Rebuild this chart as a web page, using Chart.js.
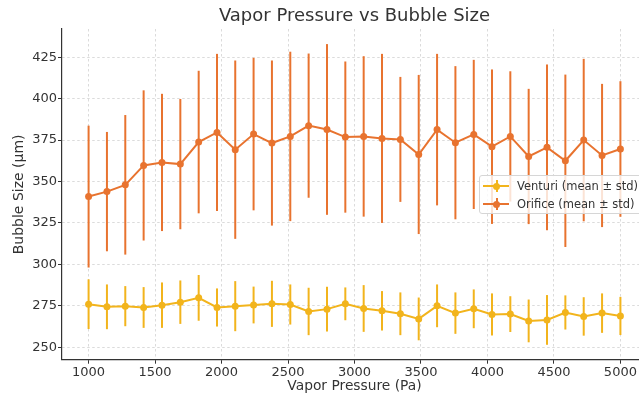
<!DOCTYPE html>
<html>
<head>
<meta charset="utf-8">
<script src="https://cdn.jsdelivr.net/npm/chart.js@4.4.0/dist/chart.umd.min.js"></script>
<style>
  html, body { margin: 0; padding: 0; background: #fff; overflow: hidden; }
  #wrap { position: absolute; left: 0; top: 0; width: 655px; height: 398px; }
  #legend {
    position: absolute; left: 479px; top: 175px; width: 172px; height: 37px;
    border: 1px solid #d6d6d6; border-radius: 3px; background: rgba(255,255,255,0.8);
    font-family: "DejaVu Sans", sans-serif; font-size: 11.5px; color: #333;
  }
  .row { position: absolute; left: 0; width: 100%; height: 18px; }
  .hl { position: absolute; left: 3px; top: 8px; width: 26px; height: 2px; }
  .vl { position: absolute; left: 15.5px; top: 3px; width: 2px; height: 12px; }
  .dot { position: absolute; left: 13px; top: 5.5px; width: 7px; height: 7px; border-radius: 50%; }
  .txt { position: absolute; left: 37px; top: 1px; line-height: 16px; white-space: nowrap; }
</style>
</head>
<body>
<div id="wrap"><canvas id="chart" width="655" height="398"></canvas></div>
<div id="legend">
  <div class="row" style="top:1px">
    <span class="hl" style="background:#f2b41c"></span><span class="vl" style="background:#f2b41c"></span><span class="dot" style="background:#f2b41c"></span>
    <span class="txt">Venturi (mean ± std)</span>
  </div>
  <div class="row" style="top:19px">
    <span class="hl" style="background:#e8732f"></span><span class="vl" style="background:#e8732f"></span><span class="dot" style="background:#e8732f"></span>
    <span class="txt">Orifice (mean ± std)</span>
  </div>
</div>
<script>
// Presión de vapor (Pa)
const pressure = [1000, 1138, 1276, 1414, 1552, 1690, 1828, 1966, 2103, 2241,
                  2379, 2517, 2655, 2793, 2931, 3069, 3207, 3345, 3483, 3621,
                  3759, 3897, 4034, 4172, 4310, 4448, 4586, 4724, 4862, 5000];

const venturiMean = [276.0, 274.4, 274.8, 274.0, 275.4, 277.2, 279.8, 274.0, 274.8, 275.5,
                     276.2, 275.8, 271.6, 273.0, 276.2, 273.4, 272.0, 270.2, 267.1, 275.0,
                     270.6, 273.2, 269.8, 270.0, 265.9, 266.5, 271.0, 268.6, 270.6, 268.9];
const venturiStd = [15.0, 13.5, 12.1, 12.3, 13.7, 13.1, 13.8, 11.5, 15.1, 11.1,
                    13.9, 12.1, 14.3, 13.5, 9.9, 14.1, 11.9, 12.9, 12.9, 12.9,
                    12.5, 11.7, 12.7, 10.8, 12.9, 15.0, 10.3, 11.6, 11.9, 11.5];

const orificeMean = [340.9, 343.9, 348.0, 359.7, 361.5, 360.5, 373.8, 379.6, 369.2, 378.6,
                     373.2, 377.2, 383.7, 381.4, 376.8, 377.2, 376.0, 375.4, 366.3, 381.3,
                     373.4, 378.4, 371.0, 377.2, 365.1, 370.6, 362.5, 375.0, 365.7, 369.6];
const orificeStd = [42.8, 36.0, 42.1, 45.3, 41.4, 39.3, 43.0, 47.4, 53.8, 46.0,
                    49.8, 51.1, 43.5, 51.5, 45.6, 48.4, 51.0, 37.7, 48.0, 45.7,
                    46.2, 45.0, 46.6, 39.3, 40.8, 50.0, 52.0, 49.0, 43.2, 40.9];

const xTicks = [1000, 1500, 2000, 2500, 3000, 3500, 4000, 4500, 5000];
const yTicks = [250, 275, 300, 325, 350, 375, 400, 425];

const venturiColor = '#f2b41c';
const orificeColor = '#e8732f';
const font = 'DejaVu Sans';

// Barras de error dibujadas con las escalas del gráfico
const errorBarsPlugin = {
  id: 'errorBars',
  beforeDatasetsDraw(chart) {
    const ctx = chart.ctx;
    const xs = chart.scales.x, ys = chart.scales.y;
    chart.data.datasets.forEach(ds => {
      if (!ds.errors) return;
      ctx.save();
      ctx.strokeStyle = ds.borderColor;
      ctx.lineWidth = 2;
      ds.data.forEach((pt, i) => {
        const x = xs.getPixelForValue(pt.x);
        ctx.beginPath();
        ctx.moveTo(x, ys.getPixelForValue(pt.y - ds.errors[i]));
        ctx.lineTo(x, ys.getPixelForValue(pt.y + ds.errors[i]));
        ctx.stroke();
      });
      ctx.restore();
    });
  }
};

function toPoints(means) {
  return pressure.map((p, i) => ({ x: p, y: means[i] }));
}

new Chart(document.getElementById('chart'), {
  type: 'line',
  data: {
    datasets: [
      {
        label: 'Venturi (mean ± std)',
        data: toPoints(venturiMean),
        errors: venturiStd,
        borderColor: venturiColor,
        backgroundColor: venturiColor,
        borderWidth: 2,
        pointRadius: 3.5,
        pointBorderWidth: 0,
        tension: 0
      },
      {
        label: 'Orifice (mean ± std)',
        data: toPoints(orificeMean),
        errors: orificeStd,
        borderColor: orificeColor,
        backgroundColor: orificeColor,
        borderWidth: 2,
        pointRadius: 3.5,
        pointBorderWidth: 0,
        tension: 0
      }
    ]
  },
  options: {
    responsive: false,
    animation: false,
    layout: { padding: { left: 0, right: 8, top: 0, bottom: 0 } },
    plugins: {
      legend: { display: false },
      tooltip: { enabled: false },
      title: {
        display: true,
        fullSize: false,
        text: 'Vapor Pressure vs Bubble Size',
        color: '#333',
        font: { family: font, size: 18, weight: 'normal' },
        padding: { top: 6, bottom: 1.4 }
      }
    },
    scales: {
      x: {
        type: 'linear',
        min: 800,
        max: 5200,
        afterBuildTicks: s => { s.ticks = xTicks.map(v => ({ value: v })); },
        afterFit: s => { s.height = 38.3; },
        grid: { color: '#d2d2d2', lineWidth: 0.8, tickColor: '#333', tickLength: 4, tickWidth: 1 },
        border: { display: true, color: '#333', width: 1.2, dash: [2.5, 2.5] },
        ticks: {
          color: '#333', font: { family: font, size: 13 }, padding: 1, maxRotation: 0,
          callback: v => String(v)
        },
        title: {
          display: true, text: 'Vapor Pressure (Pa)', color: '#333',
          font: { family: font, size: 13.8 }, padding: { top: 3, bottom: 3 }
        }
      },
      y: {
        min: 242.5,
        max: 442,
        afterBuildTicks: s => { s.ticks = yTicks.map(v => ({ value: v })); },
        afterFit: s => { s.width = 62; },
        grid: { color: '#d2d2d2', lineWidth: 0.8, tickColor: '#333', tickLength: 4, tickWidth: 1 },
        border: { display: true, color: '#333', width: 1.2, dash: [2.5, 2.5] },
        ticks: { color: '#333', font: { family: font, size: 13 }, padding: 1 },
        title: {
          display: true, text: 'Bubble Size (µm)', color: '#333',
          font: { family: font, size: 14 }, padding: { top: 11, bottom: 0 }
        }
      }
    }
  },
  plugins: [errorBarsPlugin]
});
</script>
</body>
</html>
